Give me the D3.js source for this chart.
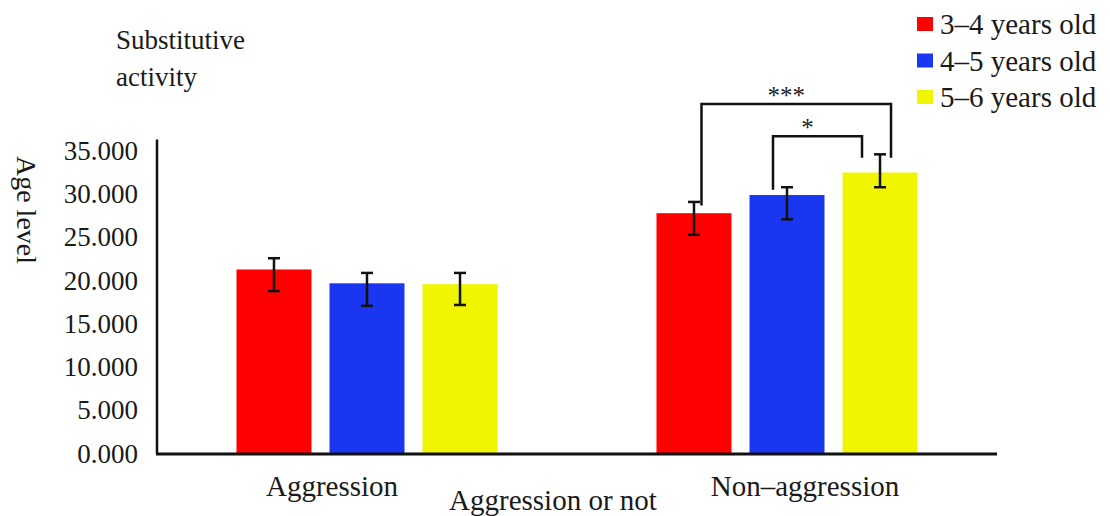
<!DOCTYPE html>
<html>
<head>
<meta charset="utf-8">
<script src="https://cdn.jsdelivr.net/npm/d3@7"></script>
<style>
    body { margin: 0; background: #fff; }
    svg text { font-family: "Liberation Serif", "Times New Roman", serif; fill: #1a1a1a; }
</style>
</head>
<body>
<div id="chart"></div>
<script>

// data
let groups = ['Aggression', 'Non\u2013aggression'];
let series = ['3\u20134 years old', '4\u20135 years old', '5\u20136 years old'];
let meanValues = [
    [21.2, 19.6, 19.5],
    [27.7, 29.8, 32.4]
];
// error bar ends (upper / lower) as drawn
let errUpper = [
    [22.5, 20.8, 20.8],
    [29.0, 30.7, 34.5]
];
let errLower = [
    [18.7, 17.0, 17.1],
    [25.2, 27.0, 30.7]
];
let yTicks = [0, 5, 10, 15, 20, 25, 30, 35];

// significance brackets (group 2), heights in data units
let brackets = [
    {from: 0, to: 2, top: 40.3, leftEnd: 28.6, rightEnd: 34.1, label: '***'},
    {from: 1, to: 2, top: 36.6, leftEnd: 30.4, rightEnd: 34.1, label: '*'}
];

let colors = ['#ff0000', '#1a36f0', '#f0f500'];

let margin = {left: 157, right: 113, top: 150, bottom: 63};
let width = 1110, height = 516;

let svg = d3.select('#chart').append('svg')
    .attr('width', width)
    .attr('height', height);

// scales
let x0 = d3.scaleBand()
    .domain(groups)
    .range([margin.left, width - margin.right])
    .paddingInner(0)
    .paddingOuter(0);

let x1 = d3.scaleBand()
    .domain(series)
    .range([0, 261])
    .paddingInner(0.194);

let y = d3.scaleLinear()
    .domain([0, 35])
    .range([height - margin.bottom, margin.top]);

let barX = (gi, si) => x0(groups[gi]) + x0.bandwidth() / 2 - 130.5 + x1(series[si]);

// y axis labels
let yAxis = d3.axisLeft(y)
    .tickValues(yTicks)
    .tickSize(0)
    .tickPadding(19)
    .tickFormat(d3.format('.3f'));

let yAxisGroup = svg.append('g')
    .attr('class', 'y-axis')
    .attr('transform', `translate(${margin.left}, 0)`)
    .call(yAxis);
yAxisGroup.select('.domain').remove();
yAxisGroup.selectAll('text')
    .style('font-size', '27px')
    .attr('dy', '0.34em')
    .style('font-family', '"Liberation Serif", serif')
    .attr('fill', '#1a1a1a');

// bars
groups.forEach((g, gi) => {
    series.forEach((s, si) => {
        let bx = barX(gi, si);
        let v = meanValues[gi][si];
        svg.append('rect')
            .attr('x', bx)
            .attr('y', y(v))
            .attr('width', x1.bandwidth())
            .attr('height', y(0) - y(v))
            .attr('fill', colors[si]);
    });
});

// error bars
groups.forEach((g, gi) => {
    series.forEach((s, si) => {
        let cx = barX(gi, si) + x1.bandwidth() / 2;
        let hi = y(errUpper[gi][si]), lo = y(errLower[gi][si]);
        let eb = svg.append('g').attr('stroke', '#111').attr('stroke-width', 2.5);
        eb.append('line').attr('x1', cx).attr('x2', cx).attr('y1', hi).attr('y2', lo);
        eb.append('line').attr('x1', cx - 6).attr('x2', cx + 6).attr('y1', hi).attr('y2', hi);
        eb.append('line').attr('x1', cx - 6).attr('x2', cx + 6).attr('y1', lo).attr('y2', lo);
    });
});

// axis lines
svg.append('line')
    .attr('x1', margin.left).attr('x2', margin.left)
    .attr('y1', y(0) + 1).attr('y2', y(36.2))
    .attr('stroke', '#111').attr('stroke-width', 2.5);
svg.append('line')
    .attr('x1', margin.left - 1).attr('x2', width - margin.right)
    .attr('y1', y(0) + 1).attr('y2', y(0) + 1)
    .attr('stroke', '#111').attr('stroke-width', 3);

// significance brackets
let bracketOffsets = [[7.5, 11], [-14, -18]];
brackets.forEach((b, i) => {
    let xl = barX(1, b.from) + x1.bandwidth() / 2 + bracketOffsets[i][0];
    let xr = barX(1, b.to) + x1.bandwidth() / 2 + bracketOffsets[i][1];
    svg.append('path')
        .attr('d', `M${xl},${y(b.leftEnd)} V${y(b.top)} H${xr} V${y(b.rightEnd)}`)
        .attr('fill', 'none')
        .attr('stroke', '#111')
        .attr('stroke-width', 2.5);
    svg.append('text')
        .attr('x', (xl + xr) / 2 - 10)
        .attr('y', y(b.top))
        .attr('text-anchor', 'middle')
        .style('font-size', '25px')
        .text(b.label);
});

// axis titles
svg.append('text')
    .attr('transform', 'translate(17, 210) rotate(90)')
    .attr('text-anchor', 'middle')
    .style('font-size', '28px')
    .text('Age level');

groups.forEach((g, gi) => {
    svg.append('text')
        .attr('x', x0(g) + x0.bandwidth() / 2 + (gi === 0 ? -35 : 18))
        .attr('y', 496)
        .attr('text-anchor', 'middle')
        .style('font-size', '29px')
        .text(g);
});

svg.append('text')
    .attr('x', 553)
    .attr('y', 510)
    .attr('text-anchor', 'middle')
    .style('font-size', '29px')
    .text('Aggression or not');

// chart title (two lines)
svg.append('text')
    .attr('x', 116)
    .attr('y', 49)
    .style('font-size', '27px')
    .text('Substitutive');
svg.append('text')
    .attr('x', 116)
    .attr('y', 86)
    .style('font-size', '27px')
    .text('activity');

// legend
let legend = svg.append('g').attr('transform', 'translate(917, 0)');
series.forEach((s, i) => {
    let ly = 24 + i * 36.5;
    legend.append('rect')
        .attr('x', 0).attr('y', ly - 7)
        .attr('width', 16).attr('height', 14)
        .attr('fill', colors[i]);
    legend.append('text')
        .attr('x', 23).attr('y', ly)
        .attr('dy', '0.35em')
        .style('font-size', '29px')
        .text(s);
});

</script>
</body>
</html>
